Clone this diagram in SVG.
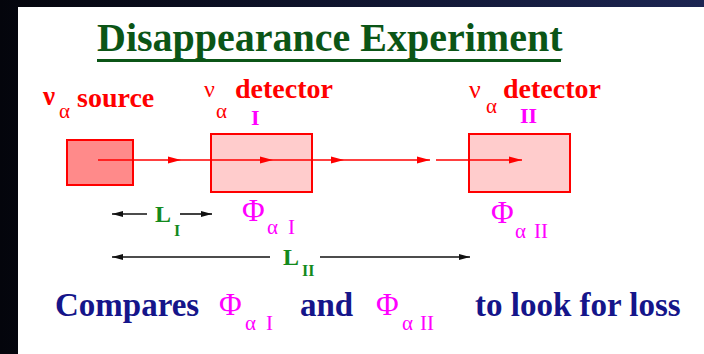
<svg xmlns="http://www.w3.org/2000/svg" width="704" height="354" viewBox="0 0 704 354">
  <defs>
    <linearGradient id="bg" x1="0" y1="0" x2="1" y2="0">
      <stop offset="0" stop-color="#04050c"/>
      <stop offset="1" stop-color="#1c2552"/>
    </linearGradient>
    <marker id="ar" markerUnits="userSpaceOnUse" markerWidth="13" markerHeight="8" refX="13" refY="4" orient="auto">
      <path d="M0,0.5 L13,4 L0,7.5 z" fill="#ff0000"/>
    </marker>
    <marker id="ab" markerUnits="userSpaceOnUse" markerWidth="11" markerHeight="7" refX="11" refY="3.5" orient="auto">
      <path d="M0,0.5 L11,3.5 L0,6.5 z" fill="#111111"/>
    </marker>
  </defs>
  <style>
    text { font-family: "Liberation Serif", "Times New Roman", serif; }
    .b { font-weight: bold; }
    .red { fill: #ff0000; }
    .mag { fill: #ff00ff; }
    .grn { fill: #138a1c; }
    .navy { fill: #15158a; }
    .beam { stroke: #ff0000; stroke-width: 1.6; fill: none; marker-end: url(#ar); }
    .dim { stroke: #111111; stroke-width: 1.6; fill: none; marker-end: url(#ab); }
    .box { stroke: #ff0000; stroke-width: 2; }
  </style>

  <rect x="0" y="0" width="704" height="354" fill="url(#bg)"/>
  <rect x="18" y="7" width="686" height="347" fill="#ffffff"/>

  <g id="title">
    <text x="97" y="51" class="b" font-size="40" fill="#0b5516">Disappearance Experiment</text>
    <rect x="97" y="59" width="464" height="3" fill="#0b5516"/>
  </g>

  <g id="source">
    <rect class="box" x="67" y="140" width="66" height="45" fill="#ff8a8a"/>
    <text x="43" y="105" class="b red" font-size="27">ν</text>
    <text x="59" y="118" class="red" font-size="21">α</text>
    <text x="77" y="107" class="b red" font-size="28">source</text>
  </g>

  <g id="detector1">
    <rect class="box" x="211" y="134" width="101" height="58" fill="#ffcccc"/>
    <text x="204" y="97" class="red" font-size="24">ν</text>
    <text x="216" y="118" class="red" font-size="21">α</text>
    <text x="235" y="98" class="b red" font-size="28">detector</text>
    <text x="251" y="125" class="b mag" font-size="22">I</text>
    <text x="242" y="221" class="mag" font-size="31">Φ</text>
    <text x="267" y="234" class="mag" font-size="21">α</text>
    <text x="288" y="234" class="mag" font-size="21">I</text>
  </g>

  <g id="detector2">
    <rect class="box" x="469" y="134" width="101" height="58" fill="#ffcccc"/>
    <text x="469" y="98" class="red" font-size="26">ν</text>
    <text x="486" y="113" class="red" font-size="21">α</text>
    <text x="503" y="98" class="b red" font-size="28">detector</text>
    <text x="520" y="123" class="b mag" font-size="22">II</text>
    <text x="491" y="223" class="mag" font-size="31">Φ</text>
    <text x="515" y="238" class="mag" font-size="21">α</text>
    <text x="534" y="238" class="mag" font-size="21">II</text>
  </g>

  <g id="connectors">
    <path class="beam" d="M98,160 H181"/>
    <path class="beam" d="M181,160 H273"/>
    <path class="beam" d="M273,160 H344"/>
    <path class="beam" d="M344,160 H430"/>
    <path class="beam" d="M436,160 H522"/>
    <path class="dim" d="M147,214 H112"/>
    <path class="dim" d="M180,214 H212"/>
    <path class="dim" d="M270,257 H112"/>
    <path class="dim" d="M320,257 H470"/>
  </g>

  <g id="distances">
    <text x="155" y="222" class="b grn" font-size="24">L</text>
    <text x="174" y="236" class="b grn" font-size="16">I</text>
    <text x="283" y="265" class="b grn" font-size="24">L</text>
    <text x="302" y="276" class="b grn" font-size="16">II</text>
  </g>

  <g id="caption">
    <text x="55" y="316" class="b navy" font-size="33">Compares</text>
    <text x="219" y="315" class="mag" font-size="31">Φ</text>
    <text x="245" y="330" class="mag" font-size="21">α</text>
    <text x="266" y="330" class="mag" font-size="21">I</text>
    <text x="300" y="316" class="b navy" font-size="33">and</text>
    <text x="376" y="315" class="mag" font-size="31">Φ</text>
    <text x="402" y="330" class="mag" font-size="21">α</text>
    <text x="420" y="330" class="mag" font-size="21">II</text>
    <text x="475" y="316" class="b navy" font-size="33">to look for loss</text>
  </g>
</svg>
